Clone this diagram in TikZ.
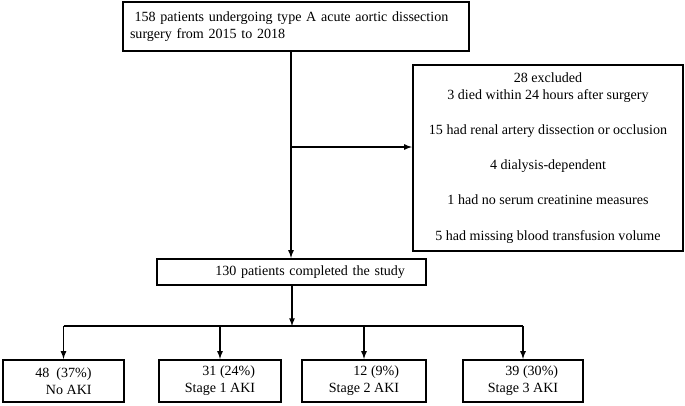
\documentclass[tikz,border=0pt]{standalone}
\usepackage{fontspec}
\setmainfont{Liberation Serif}
\begin{document}
\begin{tikzpicture}[every node/.style={draw, line width=1.6pt, inner sep=0pt,
                                       font=\fontsize{10}{12}\selectfont},
                    link/.style={line width=0.9pt, -latex}]

% Patient flow chart

\useasboundingbox (0,0) rectangle (17.125,-10.125);

\node[minimum width=8.65cm, minimum height=1.225cm, text width=8.3cm, align=left]
  (total) at (7.4,-0.6625)
  {\ 158 patients undergoing type A acute aortic dissection\\surgery from 2015 to 2018};
\node[minimum width=6.75cm, minimum height=4.65cm, align=center]
  (excl) at (13.7,-3.95)
  {28 excluded\\3 died within 24 hours after surgery\\[13pt]
   15 had renal artery dissection or occlusion\\[13pt]
   4 dialysis-dependent\\[13pt]
   1 had no serum creatinine measures\\[13pt]
   5 had missing blood transfusion volume};
\node[minimum width=6.725cm, minimum height=0.65cm, text width=5.675cm, align=right]
  (completed) at (7.2875,-6.8) {130 patients completed the study};

\foreach \name/\x/\w/\txt in {noaki/1.5875/3.025/{48~~(37\%)\\No AKI},
                              stage1/5.5/3.05/{31 (24\%)\\Stage 1 AKI},
                              stage2/9.1/3.1/{12 (9\%)\\Stage 2 AKI},
                              stage3/13.075/3.0/{39 (30\%)\\Stage 3 AKI}}
    \node[minimum width=\w cm, minimum height=1.05cm, align=right]
      (\name) at (\x,-9.525) {\txt};

\coordinate (split) at (7.275,-3.675);
\coordinate (bus) at (7.3,-8.15);

\draw[link] (split |- total.south) -- (split |- completed.north);
\draw[link] (split) -- (split -| excl.west);
\draw[link] (bus |- completed.south) -- (bus);
\draw[line width=0.9pt] (noaki.north |- bus) -- (stage3.north |- bus);

\foreach \to in {noaki, stage1, stage2, stage3}
    \draw[link] (\to.north |- bus) -- (\to.north);

\end{tikzpicture}
\end{document}
